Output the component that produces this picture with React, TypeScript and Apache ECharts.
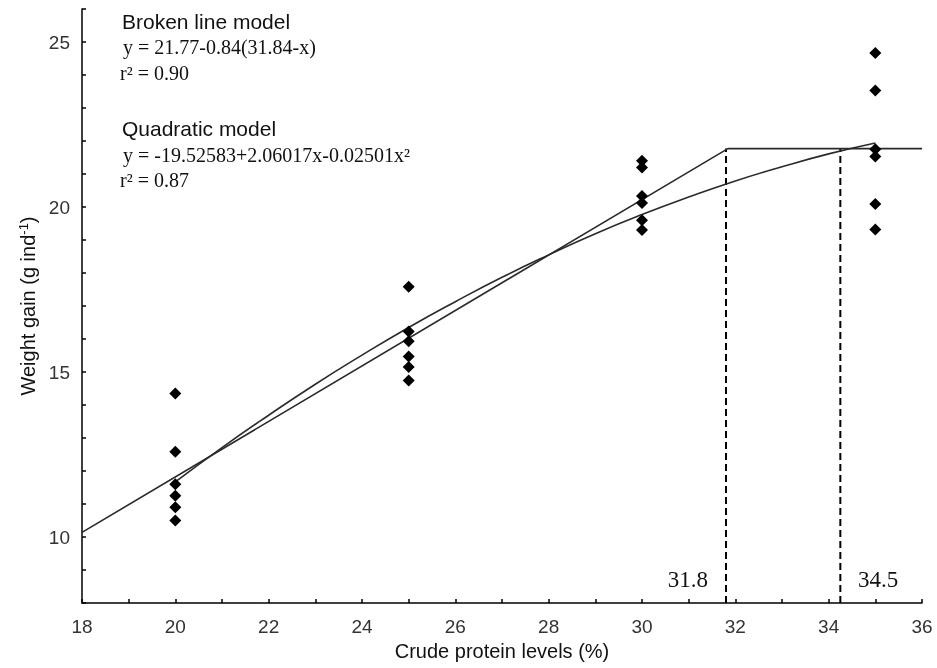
import React, { useEffect, useRef } from "react";
import * as echarts from "echarts";

// Observed data (crude protein level %, weight gain g ind-1)
const proteinLevels = [20, 25, 30, 35];
const gain20 = [14.35, 12.58, 11.6, 11.25, 10.9, 10.5];
const gain25 = [17.58, 16.23, 15.93, 15.47, 15.15, 14.74];
const gain30 = [21.4, 21.2, 20.33, 20.12, 19.6, 19.3];
const gain35 = [24.67, 23.53, 21.75, 21.53, 20.09, 19.32];

// Broken line model (vertices)
const brokenX = [18, 31.84, 36];
const brokenY = [10.14, 21.77, 21.77];

// Quadratic model curve read along x
const quadX = [20, 21, 22, 23, 24, 25, 26, 27, 28, 29, 30, 31, 32, 33, 34, 35];
const quadY = [11.67, 12.71, 13.69, 14.63, 15.51, 16.35, 17.13, 17.87, 18.55, 19.19, 19.77, 20.3, 20.79, 21.22, 21.61, 21.94];

// Dashed reference lines
const refX = [31.8, 34.25];
const refLabels = ["31.8", "34.5"];
const refTop = 21.77;

const xMin = 18, xMax = 36, yMin = 8, yMax = 26;

export default function App() {
  const ref = useRef<HTMLDivElement>(null);
  useEffect(() => {
    if (!ref.current) return;
    const chart = echarts.init(ref.current, null, { renderer: "svg" });
    const groups = [gain20, gain25, gain30, gain35];
    const points: number[][] = [];
    groups.forEach((g, i) => g.forEach((v) => points.push([proteinLevels[i], v])));

    const sans = "'Liberation Sans', Arial, sans-serif";
    const serif = "'Liberation Serif', 'Times New Roman', serif";

    const series: any[] = [
      {
        type: "line",
        data: brokenX.map((x, i) => [x, brokenY[i]]),
        symbol: "none",
        lineStyle: { color: "#2a2a2a", width: 1.6 },
        z: 3,
      },
      {
        type: "line",
        data: quadX.map((x, i) => [x, quadY[i]]),
        smooth: true,
        symbol: "none",
        lineStyle: { color: "#2a2a2a", width: 1.6 },
        z: 3,
      },
      ...refX.map((x) => ({
        type: "line",
        data: [[x, yMin], [x, refTop]],
        symbol: "none",
        lineStyle: { color: "#000", width: 2, type: [7, 4] },
        z: 2,
      })),
      {
        type: "scatter",
        data: points,
        symbol: "diamond",
        symbolSize: [12, 12],
        itemStyle: { color: "#000", opacity: 1 },
        z: 5,
      },
    ];

    const txt = (text: string, x: number, y: number, font: string, align = "left") => ({
      type: "text",
      x,
      y,
      style: { text, font, fill: "#111", align, verticalAlign: "middle" },
    });

    chart.setOption({
      animation: false,
      grid: { left: 82, right: 15, top: 9, bottom: 65 },
      xAxis: {
        type: "value",
        min: xMin,
        max: xMax,
        interval: 1,
        name: "Crude protein levels (%)",
        nameLocation: "middle",
        nameGap: 36,
        nameTextStyle: { fontSize: 20, fontFamily: sans, color: "#111" },
        axisLine: { lineStyle: { color: "#000", width: 1.5 } },
        axisTick: { inside: true, length: 4, lineStyle: { color: "#000", width: 1.5 } },
        axisLabel: {
          fontSize: 19,
          fontFamily: sans,
          color: "#333",
          margin: 14,
          formatter: (v: number) => (v % 2 === 0 ? String(v) : ""),
        },
        splitLine: { show: false },
      },
      yAxis: {
        type: "value",
        min: yMin,
        max: yMax,
        interval: 1,
        name: "Weight gain (g ind{sup|-1})",
        nameLocation: "middle",
        nameGap: 38,
        nameTextStyle: {
          fontSize: 20,
          fontFamily: sans,
          color: "#111",
          rich: { sup: { fontSize: 13, fontFamily: sans, color: "#111", verticalAlign: "top", lineHeight: 22 } },
        },
        axisLine: { lineStyle: { color: "#000", width: 1.5 } },
        axisTick: { inside: true, length: 4, lineStyle: { color: "#000", width: 1.5 } },
        axisLabel: {
          fontSize: 19,
          fontFamily: sans,
          color: "#333",
          margin: 12,
          formatter: (v: number) => (v % 5 === 0 ? String(v) : ""),
        },
        splitLine: { show: false },
      },
      graphic: [
        txt("Broken line model", 122, 21, `21px ${sans}`),
        txt("y = 21.77-0.84(31.84-x)", 123, 47, `20px ${serif}`),
        txt("r² = 0.90", 120, 73, `20px ${serif}`),
        txt("Quadratic model", 122, 128, `21px ${sans}`),
        txt("y = -19.52583+2.06017x-0.02501x²", 123, 155, `20px ${serif}`),
        txt("r² = 0.87", 120, 180, `20px ${serif}`),
        txt(refLabels[0], 708, 579, `23px ${serif}`, "right"),
        txt(refLabels[1], 858, 579, `23px ${serif}`, "left"),
      ],
      series,
    });
    return () => chart.dispose();
  }, []);
  return <div ref={ref} style={{ position: "fixed", left: 0, top: 0, width: 937, height: 668 }} />;
}
